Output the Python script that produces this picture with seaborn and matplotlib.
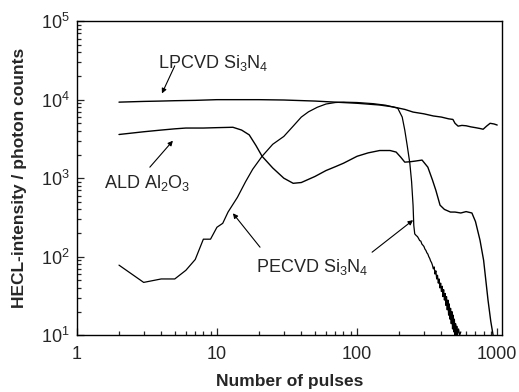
import matplotlib
matplotlib.use("Agg")
import matplotlib.pyplot as plt
import matplotlib.ticker as mticker
import seaborn as sns
import pandas as pd

# ---- data ----
lpcvd_x = [2, 3, 4, 5, 7, 10, 15, 20, 30, 50, 70, 100, 145, 180, 220, 251, 300, 350, 400,
           450, 483, 500, 526, 560, 600, 650, 700, 750, 794, 840, 890, 950, 1000]
lpcvd_y = [9300, 9500, 9600, 9700, 9800, 10000, 10000, 10000, 9900, 9600, 9300, 9000, 8550,
           8100, 7500, 6950, 6600, 6200, 6000, 5700, 5600, 5000, 4600, 4700, 4650, 4500,
           4400, 4300, 4200, 4600, 5000, 4900, 4750]

ald_x = [2, 3, 4, 5, 6, 8, 10, 13, 15, 17, 19, 21, 25, 30, 35, 40, 50, 60, 70, 80, 100, 120,
         145, 172, 190, 205, 219, 240, 260, 291, 320, 345, 365, 391, 420, 464, 500, 550, 600,
         660, 700, 754, 800, 860, 900, 935]
ald_y = [3600, 3900, 4100, 4250, 4350, 4350, 4400, 4450, 4100, 3560, 2600, 1900, 1350, 1000,
         860, 880, 1050, 1250, 1400, 1550, 1900, 2100, 2250, 2250, 2150, 1850, 1600, 1620,
         1650, 1700, 1380, 950, 700, 453, 400, 370, 370, 360, 375, 360, 280, 162, 90, 28, 15, 10]

pecvd_head_x = [2, 3, 4, 5, 6, 7, 8, 9, 10, 11, 12, 14, 16, 18, 21, 25, 30, 35, 40, 45, 52, 60,
                70, 80, 100, 130, 160, 195, 210, 219, 228, 238, 245, 251, 254]
pecvd_head_y = [78, 47, 52, 52, 67, 92, 167, 167, 237, 266, 370, 570, 900, 1300, 1900, 2700,
                3400, 4600, 6000, 7000, 8000, 8800, 9200, 9300, 9200, 8900, 8500, 7800, 6000,
                4100, 2600, 1550, 900, 450, 250]
pecvd_tail_x = [258, 265, 270, 275, 280, 285, 290, 295, 300, 305, 310, 315, 320, 325, 330, 335,
                340, 345, 350, 355, 360, 365, 370, 375, 380, 385, 390, 395, 400, 405, 410, 415,
                420, 425, 430, 435, 440, 445, 450, 455, 460, 465, 470, 475, 480, 485, 490, 495,
                500, 505, 510, 515, 520, 530, 540, 550]
pecvd_tail_y = [195, 185, 180, 170, 160, 158, 145, 140, 135, 125, 120, 112, 108, 100, 95, 88,
                84, 78, 70, 74, 60, 66, 52, 58, 46, 52, 40, 46, 36, 42, 31, 38, 28, 34, 24, 31,
                21, 28, 18, 25, 16, 22, 14, 20, 12, 18, 11, 16, 10, 14, 10, 13, 10, 12, 10, 11]
pecvd_x = pecvd_head_x + pecvd_tail_x
pecvd_y = pecvd_head_y + pecvd_tail_y

x_ticks = [1, 10, 100, 1000]
x_tick_labels = ["1", "10", "100", "1000"]
y_ticks = [10, 100, 1000, 10000, 100000]

# ---- style ----
sns.set_style("ticks")
plt.rcParams["font.family"] = ["Liberation Sans", "DejaVu Sans"]
plt.rcParams["mathtext.fontset"] = "custom"
plt.rcParams["mathtext.rm"] = "Liberation Sans"
plt.rcParams["mathtext.it"] = "Liberation Sans"
plt.rcParams["mathtext.bf"] = "Liberation Sans:bold"

fig = plt.figure(figsize=(5.19, 3.92), dpi=100)
ax = fig.add_axes([0.148, 0.145, 0.819, 0.801])

for xs, ys, lw in [(lpcvd_x, lpcvd_y, 1.0), (ald_x, ald_y, 1.0), (pecvd_x, pecvd_y, 0.9)]:
    df = pd.DataFrame({"x": xs, "y": ys})
    sns.lineplot(data=df, x="x", y="y", ax=ax, color="black", lw=lw,
                 sort=False, estimator=None)

ax.set_xscale("log")
ax.set_yscale("log")
ax.set_xlim(1, 1080)
ax.set_ylim(10, 1e5)
ax.set_xticks(x_ticks)
ax.set_xticklabels(x_tick_labels)
ax.set_yticks(y_ticks)
ax.yaxis.set_major_formatter(mticker.LogFormatterMathtext())
ax.xaxis.set_minor_locator(mticker.LogLocator(base=10, subs=range(2, 10), numticks=20))
ax.yaxis.set_minor_locator(mticker.LogLocator(base=10, subs=range(2, 10), numticks=20))
ax.xaxis.set_minor_formatter(mticker.NullFormatter())
ax.yaxis.set_minor_formatter(mticker.NullFormatter())
ax.tick_params(which="both", direction="in", top=False, right=False, labelsize=13, width=0.9)
ax.tick_params(axis="x", which="major", pad=8)
ax.tick_params(axis="y", which="major", pad=5)
ax.tick_params(which="major", length=5)
ax.tick_params(which="minor", length=3)
for sp in ax.spines.values():
    sp.set_linewidth(1.0)
    sp.set_color("black")

ax.set_xlabel("Number of pulses", fontsize=12.5, fontweight="bold")
ax.set_ylabel("HECL-intensity / photon counts", fontsize=12.5, fontweight="bold")
ax.xaxis.set_label_coords(0.5, -0.125)
ax.yaxis.set_label_coords(-0.118, 0.5)

arrow = dict(arrowstyle="-|>", color="black", lw=0.8, mutation_scale=7, shrinkA=0, shrinkB=0)
ax.text(9.4, 29000, r"LPCVD Si$_3$N$_4$", fontsize=13, ha="center", va="center")
ax.annotate("", xy=(4.05, 12000), xytext=(5.0, 27000), arrowprops=arrow)

ax.text(3.16, 866, r"ALD Al$_2$O$_3$", fontsize=13, ha="center", va="center")
ax.annotate("", xy=(4.85, 3000), xytext=(3.32, 1380), arrowprops=arrow)

ax.text(47.8, 73, r"PECVD Si$_3$N$_4$", fontsize=13, ha="center", va="center")
ax.annotate("", xy=(13.0, 357), xytext=(20.3, 132), arrowprops=arrow)
ax.annotate("", xy=(251, 292), xytext=(128, 114), arrowprops=arrow)

fig.savefig("out.png", dpi=100)
